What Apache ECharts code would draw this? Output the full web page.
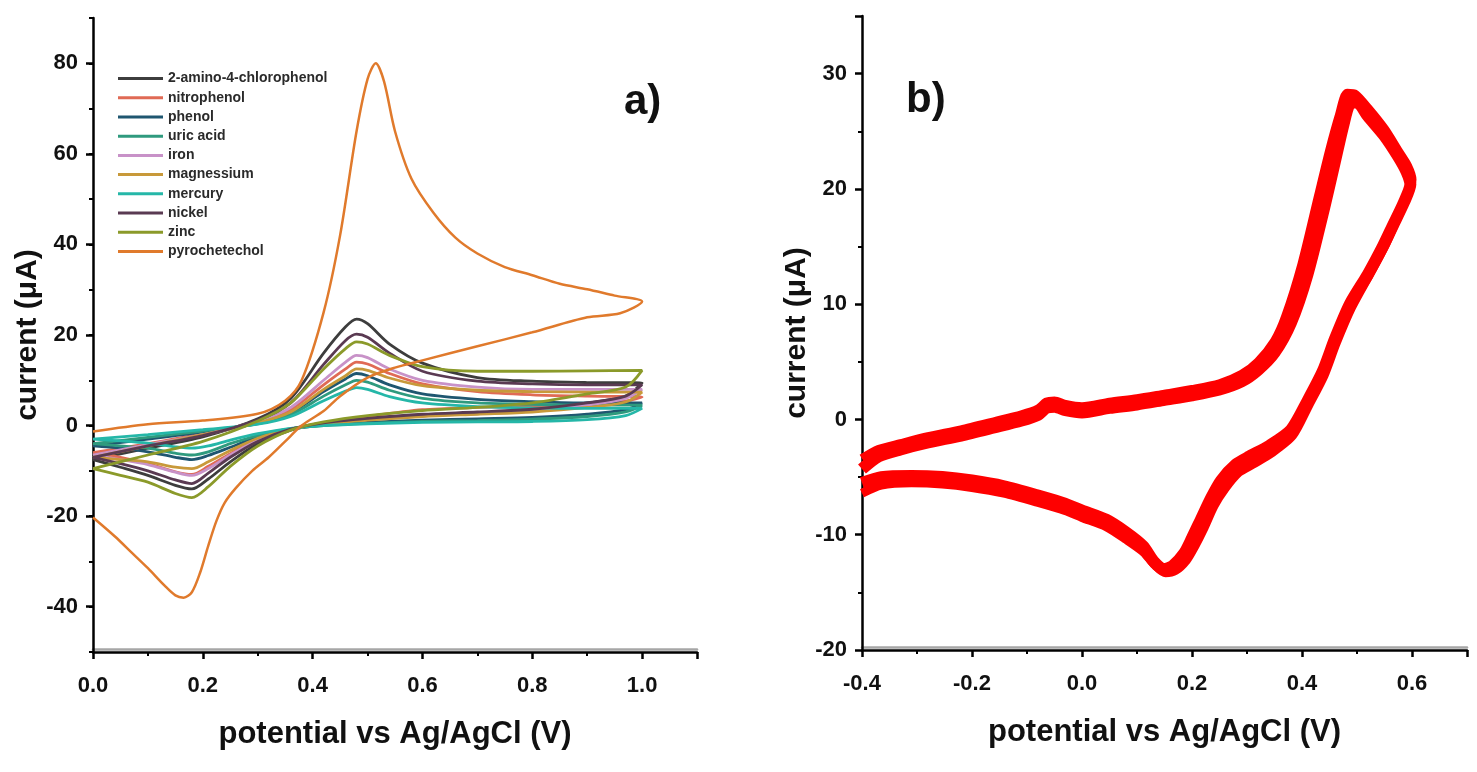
<!DOCTYPE html>
<html>
<head>
<meta charset="utf-8">
<script src="https://cdn.jsdelivr.net/npm/echarts@6/dist/echarts.min.js"></script>
<style>
html, body { margin: 0; padding: 0; background: #fff; }
#plot { width: 1477px; height: 772px; }
</style>
</head>
<body>
<div id="plot"></div>
<script>
// panel a) potentials of the forward and backward scans
var fwdX = [0, 0.1, 0.2, 0.3, 0.36, 0.42, 0.46, 0.48, 0.5, 0.54, 0.6, 0.7, 0.8, 0.9, 1.0];
var revX = [0.97, 0.9, 0.8, 0.7, 0.6, 0.5, 0.42, 0.36, 0.3, 0.25, 0.21, 0.18, 0.15, 0.1, 0.05, 0];

var aminoFwd = [-7.5, -5, -2.5, 1.5, 6, 16, 21.8, 23.5, 22.5, 18, 13.8, 10.6, 9.8, 9.5, 9.4];
var aminoRev = [6.5, 5, 3.5, 2.8, 2.3, 1.5, 0.5, -1, -4, -8, -11.8, -14, -13.2, -11, -9.2, -7.5];
var nitroFwd = [-6, -4, -1.8, 0.8, 3.5, 9, 12.5, 14, 13.6, 11.5, 9.2, 7.5, 6.8, 6.5, 6.3];
var nitroRev = [5.4, 4.8, 4.3, 4, 3.5, 2, 0.5, -0.8, -3, -6.2, -9, -10.8, -10.2, -8.4, -7, -6];
var phenolFwd = [-4.5, -3, -1.4, 0.5, 2.8, 7.5, 10.3, 11.5, 11, 9, 7, 5.8, 5.3, 5, 5];
var phenolRev = [3.5, 2.5, 1.8, 1.5, 1.2, 0.7, 0.1, -0.8, -2.5, -4.8, -6.6, -7.5, -7, -5.8, -5, -4.5];
var uricFwd = [-4, -2.6, -1.2, 0.4, 2.4, 6.5, 9, 10, 9.6, 7.8, 6, 5, 4.7, 4.5, 4.5];
var uricRev = [3, 2, 1.4, 1.1, 0.9, 0.5, 0, -0.7, -2.2, -4, -5.8, -6.5, -6.1, -5, -4.5, -4];
var ironFwd = [-6.5, -4.2, -2, 1, 4, 10, 14, 15.5, 15, 12.5, 10, 8.5, 8, 8, 8];
var ironRev = [6, 4.5, 3.2, 2.6, 2.1, 1.3, 0.4, -0.8, -3.2, -6.5, -9.5, -11, -10.3, -8.6, -7.5, -6.5];
var magnesFwd = [-7, -4.5, -2, 0.6, 3, 8, 11, 12.5, 12.2, 10.5, 8.8, 7.8, 7.5, 7.4, 7.4];
var magnesRev = [5.2, 4, 3, 2.5, 2, 1.2, 0.3, -0.8, -2.8, -5.5, -8, -9.5, -9.2, -8, -7.5, -7];
var mercuryFwd = [-3, -2, -0.9, 0.3, 2, 5.5, 7.6, 8.4, 8, 6.4, 5, 4.2, 3.9, 3.8, 3.8];
var mercuryRev = [2.2, 1.3, 0.9, 0.8, 0.7, 0.4, 0, -0.6, -1.8, -3.2, -4.5, -5, -4.7, -3.9, -3.4, -3];
var nickelFwd = [-7, -4.5, -2.2, 1.2, 5, 13.5, 18.8, 20.2, 19.5, 16, 12, 9.8, 9.2, 9, 9];
var nickelRev = [6.5, 5, 3.6, 3, 2.5, 1.6, 0.6, -0.8, -3.5, -7, -10.5, -12.8, -12, -10, -8.4, -7];
var zincFwd = [-9.5, -6.5, -3.5, 1, 5, 12.5, 17, 18.5, 18, 15.5, 13, 12, 12, 12.1, 12.2];
var zincRev = [8.5, 7, 5, 4, 3.3, 2.2, 0.8, -1, -4.5, -9, -13.5, -15.9, -15, -12.5, -11, -9.5];

var pyroX = [0, 0.1, 0.2, 0.3, 0.35, 0.38, 0.42, 0.45, 0.48, 0.5, 0.515, 0.53, 0.55, 0.58, 0.62, 0.66, 0.7, 0.75, 0.8, 0.85, 0.9, 0.95, 1.0,
             0.96, 0.9, 0.8, 0.7, 0.6, 0.55, 0.5, 0.45, 0.42, 0.38, 0.35, 0.32, 0.29, 0.26, 0.24, 0.225, 0.21, 0.195, 0.18, 0.165, 0.15, 0.13, 0.1, 0.07, 0.04, 0];
var pyroY = [-1.3, 0.3, 1.1, 2.6, 5.5, 10, 25, 42, 65, 76.5, 80, 76, 65, 54.5, 47, 41.5, 38, 35, 33.2, 31.3, 30.1, 28.7, 27.4,
             24.8, 23.9, 20.6, 17.5, 14.4, 12.8, 10.6, 6.5, 3.2, 0, -3.5, -7, -10, -13.8, -17, -21, -26.5, -32.5, -36.8, -38, -37.5, -35.3, -31.5, -28, -24.5, -20.3];

var names = ['2-amino-4-chlorophenol', 'nitrophenol', 'phenol', 'uric acid', 'iron',
             'magnessium', 'mercury', 'nickel', 'zinc', 'pyrochetechol'];
var colors = ['#3d3d3d', '#e06a55', '#1f5670', '#2f9a7e', '#c892c8',
              '#c8993a', '#25b7a8', '#5a3a52', '#8b9a2a', '#e07a2c'];
var fwdList = [aminoFwd, nitroFwd, phenolFwd, uricFwd, ironFwd, magnesFwd, mercuryFwd, nickelFwd, zincFwd];
var revList = [aminoRev, nitroRev, phenolRev, uricRev, ironRev, magnesRev, mercuryRev, nickelRev, zincRev];

var ticksA = [-40, -20, 0, 20, 40, 60, 80];

// panel b) repeated cycles
var cyc1X = [-0.4, -0.37, -0.33, -0.28, -0.22, -0.16, -0.11, -0.08, -0.065, -0.05, -0.03, 0.0, 0.05, 0.1, 0.15, 0.2, 0.25, 0.29, 0.32, 0.35, 0.38, 0.41, 0.44, 0.46, 0.475, 0.487, 0.5, 0.52, 0.55, 0.575, 0.59, 0.597, 0.585, 0.565, 0.547, 0.52, 0.487, 0.46, 0.438, 0.41, 0.38, 0.34, 0.305, 0.28, 0.253, 0.235, 0.216, 0.2, 0.186, 0.165, 0.149, 0.13, 0.111, 0.08, 0.044, 0.0, -0.031, -0.08, -0.142, -0.2, -0.254, -0.31, -0.365, -0.4];
var cyc1Y = [-4.3, -3.2, -2.6, -2.0, -1.4, -0.7, -0.1, 0.4, 1.0, 1.1, 0.8, 0.6, 1.0, 1.3, 1.7, 2.1, 2.6, 3.3, 4.3, 5.8, 8.4, 12.6, 18.3, 22.4, 25.5, 27.4, 27.5, 26.3, 24.6, 22.8, 21.5, 20.4, 18.8, 16.8, 15.0, 12.6, 10.0, 7.0, 4.2, 1.6, -0.9, -2.3, -3.2, -3.9, -5.3, -6.8, -8.7, -10.3, -11.6, -12.7, -13.0, -12.3, -11.0, -9.8, -8.7, -7.9, -7.3, -6.6, -5.8, -5.3, -5.0, -4.9, -5.0, -5.5];
var cyc2X = [-0.4, -0.37, -0.33, -0.28, -0.22, -0.16, -0.11, -0.08, -0.065, -0.05, -0.03, 0.0, 0.05, 0.1, 0.15, 0.2, 0.25, 0.29, 0.32, 0.35, 0.37, 0.4, 0.43, 0.45, 0.468, 0.482, 0.497, 0.52, 0.55, 0.575, 0.592, 0.6, 0.588, 0.568, 0.55, 0.522, 0.49, 0.462, 0.44, 0.412, 0.383, 0.345, 0.31, 0.285, 0.26, 0.24, 0.222, 0.205, 0.19, 0.17, 0.152, 0.132, 0.112, 0.08, 0.044, 0.0, -0.031, -0.08, -0.142, -0.2, -0.254, -0.31, -0.365, -0.4];
var cyc2Y = [-3.4, -2.6, -2.1, -1.5, -0.9, -0.2, 0.4, 0.9, 1.5, 1.6, 1.3, 1.1, 1.5, 1.8, 2.2, 2.6, 3.1, 3.9, 5.0, 6.8, 8.9, 13.5, 19.4, 23.3, 26.4, 28.3, 28.2, 27.0, 25.2, 23.3, 22.0, 20.8, 19.0, 16.9, 15.0, 12.5, 9.7, 6.6, 3.8, 1.2, -1.4, -2.9, -3.9, -4.6, -6.0, -7.5, -9.4, -11.0, -12.2, -13.1, -13.3, -12.6, -11.5, -10.4, -9.3, -8.5, -7.9, -7.2, -6.4, -5.9, -5.6, -5.5, -5.7, -6.4];

function zip(xs, ys) {
  var out = [];
  for (var i = 0; i < xs.length; i++) out.push([xs[i], ys[i]]);
  return out;
}

var narrow = "'Liberation Sans Narrow', 'Liberation Sans', Arial, sans-serif";
var wide = "'Liberation Sans', Arial, sans-serif";
var labelStyle = { fontFamily: narrow, fontWeight: 'bold', fontSize: 22, color: '#111' };

function xAx(idx, min, max, gap) {
  return {
    gridIndex: idx, type: 'value', min: min, max: max, interval: 0.2,
    name: 'potential vs Ag/AgCl (V)', nameLocation: 'middle', nameGap: gap,
    nameTextStyle: { fontFamily: narrow, fontWeight: 'bold', fontSize: 31, color: '#111' },
    axisLine: { onZero: false, lineStyle: { color: '#000', width: 2.5, shadowColor: 'rgba(0,0,0,0.35)', shadowOffsetY: -3 } },
    axisTick: { inside: false, length: 7, lineStyle: { color: '#000', width: 2.5 } },
    minorTick: { show: true, splitNumber: 2, length: 4, lineStyle: { color: '#000', width: 2 } },
    splitLine: { show: false },
    axisLabel: Object.assign({ margin: 23, showMaxLabel: false,
                 formatter: function (v) { return v.toFixed(1); } }, labelStyle)
  };
}
var yName = {
  name: 'current (\u03bcA)', nameLocation: 'middle', nameRotate: 90,
  nameTextStyle: { fontFamily: wide, fontWeight: 'bold', fontSize: 30, color: '#111' }
};

var yAxes = [
  // panel a): axis line, 10-step small ticks and labels
  Object.assign({
    gridIndex: 0, type: 'value', min: -50, max: 90, interval: 10, position: 'left', nameGap: 48,
    axisLine: { onZero: false, lineStyle: { color: '#000', width: 2.5 } },
    axisTick: { inside: false, length: 4, lineStyle: { color: '#000', width: 2 } },
    splitLine: { show: false },
    axisLabel: Object.assign({ margin: 15, customValues: ticksA }, labelStyle)
  }, yName),
  // panel a): long ticks at the labelled values
  {
    gridIndex: 0, type: 'value', min: -50, max: 90, position: 'left', offset: 0,
    axisLine: { show: false },
    axisTick: { inside: false, length: 7, customValues: ticksA, lineStyle: { color: '#000', width: 2.5 } },
    axisLabel: { show: false },
    splitLine: { show: false }
  },
  // panel b)
  Object.assign({
    gridIndex: 1, type: 'value', min: -20, max: 35, interval: 10, position: 'left', nameGap: 40,
    axisLine: { onZero: false, lineStyle: { color: '#000', width: 2.5 } },
    axisTick: { inside: false, length: 7, lineStyle: { color: '#000', width: 2.5 } },
    minorTick: { show: true, splitNumber: 2, length: 4, lineStyle: { color: '#000', width: 2 } },
    splitLine: { show: false },
    axisLabel: Object.assign({ margin: 15, showMaxLabel: false }, labelStyle)
  }, yName)
];

var series = [];
for (var i = 0; i < 9; i++) {
  series.push({
    name: names[i], type: 'line', xAxisIndex: 0, yAxisIndex: 0,
    showSymbol: false, smooth: 0.3, color: colors[i],
    lineStyle: { width: 2.8 },
    data: zip(fwdX, fwdList[i]).concat(zip(revX, revList[i]))
  });
}
series.push({
  name: names[9], type: 'line', xAxisIndex: 0, yAxisIndex: 0,
  showSymbol: false, smooth: 0.3, color: colors[9],
  lineStyle: { width: 2.5 },
  data: zip(pyroX, pyroY)
});
series.push({
  name: 'cycle 1', type: 'line', xAxisIndex: 1, yAxisIndex: 2,
  showSymbol: false, smooth: 0.25, color: '#fe0000',
  lineStyle: { width: 12 },
  data: zip(cyc1X, cyc1Y)
});
series.push({
  name: 'cycle 2', type: 'line', xAxisIndex: 1, yAxisIndex: 2,
  showSymbol: false, smooth: 0.25, color: '#fe0000',
  lineStyle: { width: 9 },
  data: zip(cyc2X, cyc2Y)
});

var myPlot = echarts.init(document.getElementById('plot'));
var option = {
  backgroundColor: '#fff',
  animation: false,
  title: [
    { text: 'a)', left: 624, top: 81, padding: 0,
      textStyle: { fontFamily: narrow, fontWeight: 'bold', fontSize: 42, color: '#111' } },
    { text: 'b)', left: 906, top: 79, padding: 0,
      textStyle: { fontFamily: narrow, fontWeight: 'bold', fontSize: 42, color: '#111' } }
  ],
  legend: {
    data: names, orient: 'vertical', left: 113, top: 66,
    icon: 'rect', itemWidth: 45, itemHeight: 3, itemGap: 4,
    textStyle: { fontFamily: narrow, fontWeight: 'bold', fontSize: 14, lineHeight: 15.2, color: '#2a2a2a' }
  },
  grid: [
    { left: 93, top: 18, width: 604, height: 634 },
    { left: 862, top: 16, width: 605, height: 634 }
  ],
  xAxis: [xAx(0, 0, 1.1, 67), xAx(1, -0.4, 0.7, 67)],
  yAxis: yAxes,
  series: series
};
option && myPlot.setOption(option);
</script>
</body>
</html>
